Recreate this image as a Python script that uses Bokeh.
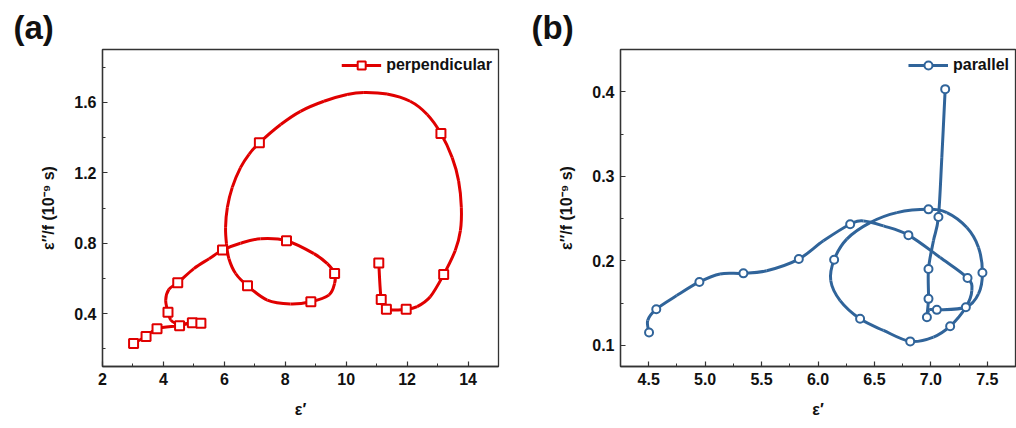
from bokeh.plotting import figure
from bokeh.layouts import row
from bokeh.models import (Range1d, FixedTicker, NumeralTickFormatter, Legend,
                          LegendItem)
from bokeh.embed import file_html
from bokeh.resources import INLINE

# ---- (a) perpendicular orientation ----
# measured points (drawn as markers)
perp_eps1 = [3.02, 3.43, 3.79, 4.53, 4.95, 5.23, 4.15, 4.47, 5.94, 8.04,
             9.62, 8.84, 6.76, 7.15, 13.11, 13.20, 11.97, 11.32, 11.15, 11.07]
perp_eps2f = [0.231, 0.270, 0.315, 0.332, 0.349, 0.346, 0.408, 0.575, 0.761, 0.814,
              0.628, 0.468, 0.558, 1.370, 1.423, 0.622, 0.425, 0.425, 0.481, 0.688]

# full sweep (connecting curve)
perp_curve_eps1 = [3.02, 3.43, 3.79, 4.53, 4.95, 5.23, 4.95, 4.53, 4.40, 4.24,
                   4.15, 4.075, 4.18, 4.47, 5.00, 5.50, 5.94, 6.53, 7.19, 8.04,
                   8.94, 9.38, 9.62, 9.62, 9.43, 8.84, 8.17, 7.41, 6.76, 6.37,
                   6.15, 6.07, 6.04, 6.10, 6.26, 6.53, 6.81, 7.15, 7.85, 8.50,
                   9.27, 10.03, 10.58, 11.34, 12.10, 12.66, 13.11, 13.48, 13.69, 13.78,
                   13.75, 13.58, 13.20, 12.76, 12.33, 11.97, 11.32, 11.15, 11.07]
perp_curve_eps2f = [0.231, 0.270, 0.315, 0.332, 0.349, 0.346, 0.349, 0.338, 0.345, 0.364,
                    0.408, 0.477, 0.538, 0.575, 0.656, 0.712, 0.761, 0.800, 0.825, 0.814,
                    0.741, 0.684, 0.628, 0.572, 0.505, 0.468, 0.455, 0.477, 0.558, 0.628,
                    0.712, 0.797, 0.891, 1.004, 1.117, 1.229, 1.305, 1.370, 1.474, 1.549,
                    1.606, 1.644, 1.656, 1.647, 1.606, 1.531, 1.423, 1.286, 1.154, 1.004,
                    0.872, 0.759, 0.622, 0.496, 0.440, 0.425, 0.425, 0.481, 0.688]

# ---- (b) parallel orientation ----
par_eps1 = [4.503, 4.567, 4.949, 5.339, 5.830, 6.285, 6.801, 7.325, 7.310, 7.171,
            6.817, 6.373, 6.143, 6.979, 7.457, 7.053, 6.965, 6.979, 6.979, 7.067, 7.127]
par_eps2f = [0.1153, 0.1428, 0.1750, 0.1852, 0.2021, 0.2433, 0.2304, 0.1797, 0.1451, 0.1227,
             0.1047, 0.1314, 0.2013, 0.2609, 0.1860, 0.1420, 0.1333, 0.1550, 0.1903, 0.2519, 0.4031]

par_curve_eps1 = [4.503, 4.491, 4.567, 4.748, 4.949, 5.132, 5.339, 5.546, 5.830, 6.048,
                  6.285, 6.403, 6.580, 6.801, 7.082, 7.325, 7.363, 7.310, 7.171, 7.023,
                  6.817, 6.580, 6.373, 6.196, 6.113, 6.143, 6.255, 6.462, 6.699, 6.979,
                  7.142, 7.319, 7.422, 7.457, 7.422, 7.310, 7.053, 6.985, 6.965, 6.979,
                  6.979, 7.023, 7.067, 7.097, 7.127]
par_curve_eps2f = [0.1153, 0.1294, 0.1428, 0.1589, 0.1750, 0.1845, 0.1852, 0.1883, 0.2021, 0.2237,
                   0.2433, 0.2472, 0.2413, 0.2304, 0.2040, 0.1797, 0.1648, 0.1451, 0.1227, 0.1098,
                   0.1047, 0.1177, 0.1314, 0.1530, 0.1766, 0.2013, 0.2257, 0.2452, 0.2570, 0.2609,
                   0.2570, 0.2393, 0.2158, 0.1860, 0.1609, 0.1451, 0.1420, 0.1420, 0.1333, 0.1550,
                   0.1903, 0.2237, 0.2519, 0.3218, 0.4031]

a_xticks = [2, 4, 6, 8, 10, 12, 14]
a_yticks = [0.4, 0.8, 1.2, 1.6]
b_xticks = [4.5, 5.0, 5.5, 6.0, 6.5, 7.0, 7.5]
b_yticks = [0.1, 0.2, 0.3, 0.4]

RED = "#E00000"
BLUE = "#30649A"
AXIS = "#333333"
FONT = "Liberation Sans"
YLABEL = "\u03b5\u2032\u2032/f (10\u207b\u2079 s)"
XLABEL = "\u03b5\u2032"


def spline_pieces(xs, ys):
    """Cubic Bezier pieces of a Catmull-Rom spline through the given points."""
    n = len(xs)
    out = {k: [] for k in ("x0", "y0", "x1", "y1", "cx0", "cy0", "cx1", "cy1")}
    for i in range(n - 1):
        a = max(i - 1, 0)
        d = min(i + 2, n - 1)
        out["x0"].append(xs[i])
        out["y0"].append(ys[i])
        out["x1"].append(xs[i + 1])
        out["y1"].append(ys[i + 1])
        out["cx0"].append(xs[i] + (xs[i + 1] - xs[a]) / 6)
        out["cy0"].append(ys[i] + (ys[i + 1] - ys[a]) / 6)
        out["cx1"].append(xs[i + 1] - (xs[d] - xs[i]) / 6)
        out["cy1"].append(ys[i + 1] - (ys[d] - ys[i]) / 6)
    return out


def style(p, xticks, yticks, xminor, yminor, xfmt, yfmt):
    p.xaxis.ticker = FixedTicker(ticks=xticks, minor_ticks=xminor)
    p.yaxis.ticker = FixedTicker(ticks=yticks, minor_ticks=yminor)
    p.xaxis.formatter = NumeralTickFormatter(format=xfmt)
    p.yaxis.formatter = NumeralTickFormatter(format=yfmt)
    p.xgrid.visible = False
    p.ygrid.visible = False
    p.outline_line_color = AXIS
    p.outline_line_width = 1.3
    p.outline_line_alpha = 1
    for ax in (p.xaxis[0], p.yaxis[0]):
        ax.axis_line_color = AXIS
        ax.axis_line_width = 1.3
        ax.major_tick_line_color = AXIS
        ax.minor_tick_line_color = AXIS
        ax.major_tick_line_width = 1.2
        ax.minor_tick_line_width = 1.0
        ax.major_tick_in = 5
        ax.major_tick_out = 0
        ax.minor_tick_in = 3
        ax.minor_tick_out = 0
        ax.major_label_text_font = FONT
        ax.major_label_text_font_style = "bold"
        ax.major_label_text_font_size = "16px"
        ax.major_label_text_color = "#111111"
        ax.axis_label_text_font = FONT
        ax.axis_label_text_font_style = "bold"
        ax.axis_label_text_font_size = "16px"
        ax.axis_label_text_color = "#111111"
    p.xaxis.major_label_standoff = 6
    p.yaxis.major_label_standoff = 6
    p.xaxis.axis_label_standoff = 13
    p.yaxis.axis_label_standoff = 14
    p.xaxis.axis_label = XLABEL
    p.yaxis.axis_label = YLABEL


def panel(width, border_left, border_right, xr, yr, tag):
    p = figure(width=width, height=428, x_range=Range1d(*xr), y_range=Range1d(*yr),
               output_backend="svg", toolbar_location=None,
               min_border_left=border_left, min_border_right=border_right,
               min_border_top=49, min_border_bottom=62,
               background_fill_color="white", border_fill_color="white",
               title=tag)
    p.title.text_font = FONT
    p.title.text_font_style = "bold"
    p.title.text_font_size = "33px"
    p.title.text_color = "#111111"
    p.title.align = "left"
    p.title.offset = -89
    p.title.standoff = 8
    return p


def draw_series(p, cx, cy, mx, my, color, marker, size, text):
    curve = p.bezier(line_color=color, line_width=3, **spline_pieces(cx, cy))
    marks = p.scatter(mx, my, marker=marker, size=size, line_color=color,
                      line_width=2, fill_color="white")
    leg = Legend(items=[LegendItem(label=text, renderers=[curve, marks])],
                 location="top_right", glyph_width=40, glyph_height=20,
                 label_standoff=5, padding=6, margin=0, spacing=0,
                 border_line_alpha=0, background_fill_alpha=0,
                 label_text_font=FONT, label_text_font_style="bold",
                 label_text_font_size="16px", label_text_color="#111111")
    p.add_layout(leg)


# panel (a)
pa = panel(506, 102, 8, (2, 15), (0.1, 1.9), "(a)")
style(pa, a_xticks, a_yticks, [3, 5, 7, 9, 11, 13, 15],
      [0.2, 0.6, 1.0, 1.4, 1.8], "0", "0.0")
draw_series(pa, perp_curve_eps1, perp_curve_eps2f, perp_eps1, perp_eps2f,
            RED, "square", 9, "perpendicular")

# panel (b)
pb = panel(510, 114, 1, (4.25, 7.75), (0.075, 0.45), "(b)")
style(pb, b_xticks, b_yticks, [4.75, 5.25, 5.75, 6.25, 6.75, 7.25],
      [0.15, 0.25, 0.35], "0.0", "0.0")
draw_series(pb, par_curve_eps1, par_curve_eps2f, par_eps1, par_eps2f,
            BLUE, "circle", 8, "parallel")

layout = row(pa, pb)
open("out.html", "w").write(file_html(layout, INLINE))
